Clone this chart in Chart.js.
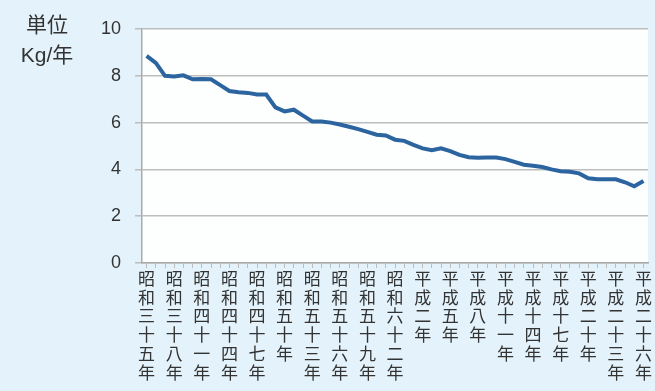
<!DOCTYPE html>
<html lang="ja">
<head>
<meta charset="utf-8">
<script src="https://cdn.jsdelivr.net/npm/chart.js@4/dist/chart.umd.min.js"></script>
<style>
  body { margin: 0; background: #e4f3fb; }
  #wrap { position: relative; width: 655px; height: 391px; }
  #unit {
    position: absolute; left: 0; top: 10px; width: 94px;
    text-align: center; font: 21px "Liberation Sans", "Noto Sans CJK JP", sans-serif;
    line-height: 30px; color: #333;
  }
</style>
</head>
<body>
<div id="wrap">
  <canvas id="chart"></canvas>
  <div id="unit">単位<br>Kg/年</div>
</div>
<script>
// 年次（昭和35年〜平成26年）
const years = [
  "昭和三十五年", "昭和三十六年", "昭和三十七年", "昭和三十八年", "昭和三十九年",
  "昭和四十年", "昭和四十一年", "昭和四十二年", "昭和四十三年", "昭和四十四年",
  "昭和四十五年", "昭和四十六年", "昭和四十七年", "昭和四十八年", "昭和四十九年",
  "昭和五十年", "昭和五十一年", "昭和五十二年", "昭和五十三年", "昭和五十四年",
  "昭和五十五年", "昭和五十六年", "昭和五十七年", "昭和五十八年", "昭和五十九年",
  "昭和六十年", "昭和六十一年", "昭和六十二年", "昭和六十三年", "平成元年",
  "平成二年", "平成三年", "平成四年", "平成五年", "平成六年",
  "平成七年", "平成八年", "平成九年", "平成十年", "平成十一年",
  "平成十二年", "平成十三年", "平成十四年", "平成十五年", "平成十六年",
  "平成十七年", "平成十八年", "平成十九年", "平成二十年", "平成二十一年",
  "平成二十二年", "平成二十三年", "平成二十四年", "平成二十五年", "平成二十六年"
];

// 一人当たり消費量 (Kg/年)
const perCapita = [
  8.85, 8.55, 8.0, 7.97, 8.02, 7.85, 7.86, 7.85, 7.6, 7.35,
  7.3, 7.27, 7.2, 7.2, 6.65, 6.48, 6.55, 6.3, 6.05, 6.05,
  6.0, 5.92, 5.82, 5.72, 5.6, 5.48, 5.45, 5.27, 5.22, 5.05,
  4.9, 4.82, 4.9, 4.78, 4.62, 4.52, 4.5, 4.51, 4.51, 4.44,
  4.32, 4.2, 4.16, 4.1, 4.0, 3.92, 3.9, 3.83, 3.62, 3.58,
  3.58, 3.58, 3.45, 3.28, 3.5
];

const labelEvery = 3;  // 3年おきに目盛ラベル
const yMin = 0, yMax = 10, yStep = 2;

// background: light blue page, white plot area
const bgPlugin = {
  id: "bg",
  beforeDraw(chart) {
    const { ctx, chartArea: a } = chart;
    ctx.save();
    ctx.fillStyle = "#e4f3fb";
    ctx.fillRect(0, 0, chart.width, chart.height);
    ctx.fillStyle = "#fdfefe";
    ctx.fillRect(a.left, a.top, a.right - a.left, a.bottom - a.top);
    ctx.restore();
  }
};

const font = '"Liberation Sans", "Noto Sans CJK JP", sans-serif';

new Chart(document.getElementById("chart"), {
  type: "line",
  data: {
    labels: years,
    datasets: [{
      data: perCapita,
      borderColor: "#2c64a0",
      borderWidth: 4,
      pointRadius: 0,
      tension: 0
    }]
  },
  options: {
    responsive: true,
    maintainAspectRatio: false,
    animation: false,
    layout: { padding: { left: 92, top: 29, right: 5, bottom: 0 } },
    plugins: { legend: { display: false }, tooltip: { enabled: false } },
    scales: {
      x: {
        offset: true,
        grid: { display: true, drawOnChartArea: false, tickLength: 5, color: "#bcbcbc" },
        border: { color: "#aaaaaa", width: 1.5 },
        afterFit(scale) { scale.height = 128; },
        ticks: {
          autoSkip: false,
          maxRotation: 0,
          minRotation: 0,
          padding: 3,
          color: "#333",
          font: { family: font, size: 17, lineHeight: 1.1 },
          callback(v, i) {
            return i % labelEvery === 0 ? Array.from(this.getLabelForValue(v)) : "";
          }
        }
      },
      y: {
        min: yMin,
        max: yMax,
        grid: { color: "#bdbdbd", lineWidth: 1.5, tickLength: 7 },
        border: { color: "#aaaaaa", width: 1.5 },
        afterFit(scale) { scale.width = 50; },
        ticks: {
          stepSize: yStep,
          padding: 14,
          color: "#333",
          font: { family: font, size: 18 }
        }
      }
    }
  },
  plugins: [bgPlugin]
});
</script>
</body>
</html>
